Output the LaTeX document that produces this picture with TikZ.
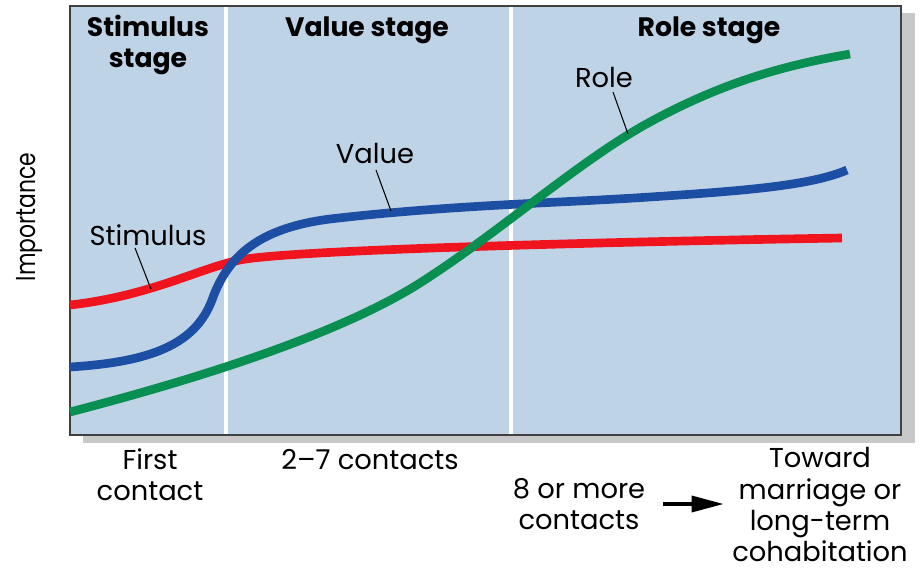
\documentclass[tikz,border=0pt]{standalone}
\usepackage{fontspec}
\setmainfont{Poppins}
\usetikzlibrary{arrows.meta}
\definecolor{panelblue}{HTML}{BFD3E6}
\definecolor{shadowgray}{HTML}{C8C8C8}
\definecolor{stimred}{HTML}{F0141E}
\definecolor{valueblue}{HTML}{1C4FA3}
\definecolor{rolegreen}{HTML}{0A8F52}
\begin{document}
\begin{tikzpicture}[
    x=0.75pt, y=-0.75pt,
    font=\fontsize{20.5}{23.5}\selectfont,
    title/.style={font=\fontsize{20}{23.5}\selectfont\bfseries, align=center},
    label/.style={align=center},
    curve/.style={line width=6.5pt, line cap=butt},
    pointer/.style={thick, black},
    divider/.style={white, line width=2.4pt},
    arrow/.style={-{Triangle[length=24pt, width=12pt]}, line width=2.6pt}
]
\useasboundingbox (0,0) rectangle (922,575);

% Panel with shadow
\fill[shadowgray] (83,13) rectangle (915,443);
\draw[fill=panelblue, draw=black!75, thick] (70,6) rectangle (901,435);
\draw[divider] (226,7) -- (226,434);
\draw[divider] (511,7) -- (511,434);

% Stage titles
\node[title] (stimstage) at (148,45) {Stimulus\\stage};
\node[title] (valstage) at (367,30) {Value stage};
\node[title] (rolestage) at (709,30) {Role stage};

% Curves
\draw[curve, stimred] (70,305) .. controls (150,296) and (200,268) .. (240,260)
    .. controls (290,250) and (600,242) .. (842,238);
\draw[curve, valueblue] (70,367) .. controls (150,362) and (195,345) .. (212,300)
    .. controls (228,255) and (260,228) .. (330,219)
    .. controls (450,205) and (560,203) .. (650,197)
    .. controls (740,191) and (810,186) .. (847,170);
\draw[curve, rolegreen] (70,412) .. controls (170,386) and (330,340) .. (420,283)
    .. controls (500,232) and (580,160) .. (650,122)
    .. controls (720,84) and (780,66) .. (850,54);

% Curve labels
\coordinate (stimpt) at (151,289);
\coordinate (valpt) at (391,211);
\coordinate (rolept) at (628,134);
\node[label] (stimulus) at (148,235) {Stimulus};
\node[label] (value) at (375,154) {Value};
\node[label] (role) at (604,78) {Role};
\draw[pointer] (135,248) -- (stimpt);
\draw[pointer] (376,170) -- (valpt);
\draw[pointer] (613,92) -- (rolept);

% Axis labels
\node[rotate=90] (importance) at (30,217) {\scalebox{0.8}[1]{Importance}};
\node[label] (first) at (150,475) {First\\contact};
\node[label] (twoseven) at (370,460) {2--7 contacts};
\node[label] (eight) at (579,504) {8 or more\\contacts};
\node[label] (toward) at (820,505) {Toward\\marriage or\\long-term\\cohabitation};
\draw[arrow, shorten <=10pt, shorten >=3pt] (eight.east) -- (eight.east -| toward.west);

\end{tikzpicture}
\end{document}
